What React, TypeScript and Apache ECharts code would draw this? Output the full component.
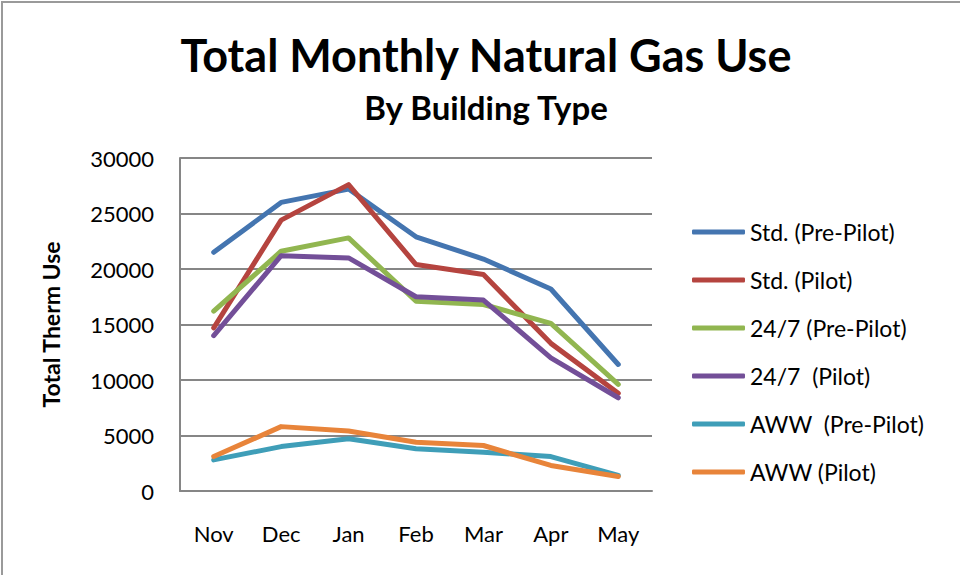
import React, { useEffect, useRef } from "react";
import * as echarts from "echarts";

const months = ["Nov", "Dec", "Jan", "Feb", "Mar", "Apr", "May"];
const stdPre = [21500, 26000, 27200, 22900, 20900, 18200, 11400];
const stdPilot = [14700, 24400, 27600, 20400, 19500, 13300, 8800];
const h247Pre = [16200, 21600, 22800, 17100, 16800, 15100, 9600];
const h247Pilot = [14000, 21200, 21000, 17500, 17200, 12000, 8400];
const awwPre = [2800, 4000, 4700, 3800, 3500, 3100, 1400];
const awwPilot = [3100, 5800, 5400, 4400, 4100, 2300, 1300];
const seriesNames = [
  "Std. (Pre-Pilot)",
  "Std. (Pilot)",
  "24/7 (Pre-Pilot)",
  "24/7  (Pilot)",
  "AWW  (Pre-Pilot)",
  "AWW (Pilot)",
];
const seriesData = [stdPre, stdPilot, h247Pre, h247Pilot, awwPre, awwPilot];
const colors = ["#4475B0", "#B5443F", "#91B650", "#734F98", "#3F9EB8", "#E8843A"];

export default function App() {
  const ref = useRef<HTMLDivElement>(null);
  useEffect(() => {
    document.body.style.margin = "0";
    const chart = echarts.init(ref.current!, null, { renderer: "svg" });
    const font = "Lato, 'Open Sans', sans-serif";
    chart.setOption({
      animation: false,
      backgroundColor: "#fff",
      textStyle: { fontFamily: font },
      title: [
        {
          text: "Total Monthly Natural Gas Use",
          left: 481,
          textAlign: "center",
          top: 27,
          textStyle: { fontSize: 45, fontWeight: "bold", color: "#000", fontFamily: font },
        },
        {
          text: "By Building Type",
          left: 481,
          textAlign: "center",
          top: 85,
          textStyle: { fontSize: 33, fontWeight: "bold", color: "#000", fontFamily: font },
        },
      ],
      graphic: [
        {
          type: "rect",
          shape: { x: 2, y: 2, width: 1000, height: 1000 },
          style: { fill: "none", stroke: "#9a9a9a", lineWidth: 2 },
          silent: true,
        },
      ],
      legend: {
        orient: "vertical",
        left: 687,
        top: 215,
        itemWidth: 53,
        itemHeight: 5,
        itemGap: 24,
        icon: "roundRect",
        textStyle: { fontSize: 23, lineHeight: 24, color: "#000", fontFamily: font },
        data: seriesNames,
      },
      grid: { left: 180, right: 308, top: 158, bottom: 84 },
      xAxis: {
        type: "category",
        data: months,
        boundaryGap: true,
        axisLine: { lineStyle: { color: "#868686", width: 2 } },
        axisTick: { show: false },
        axisLabel: { fontSize: 22, color: "#000", margin: 31, fontFamily: font },
      },
      yAxis: {
        type: "value",
        min: 0,
        max: 30000,
        interval: 5000,
        name: "Total Therm Use",
        nameLocation: "middle",
        nameGap: 118,
        nameTextStyle: { fontSize: 23, fontWeight: "bold", color: "#000", fontFamily: font },
        axisLine: { show: true, lineStyle: { color: "#868686", width: 2 } },
        axisTick: { show: false },
        axisLabel: {
          fontSize: 22,
          color: "#000",
          margin: 26,
          fontFamily: font,
          formatter: (v: number) => String(v),
        },
        splitLine: { lineStyle: { color: "#868686", width: 2 } },
      },
      series: seriesNames.map((n, i) => ({
        name: n,
        type: "line",
        data: seriesData[i],
        symbol: "none",
        color: colors[i],
        lineStyle: { width: 5, color: colors[i], cap: "round", join: "round" },
      })),
    });
    return () => chart.dispose();
  }, []);
  return <div ref={ref} style={{ width: 960, height: 575 }} />;
}
